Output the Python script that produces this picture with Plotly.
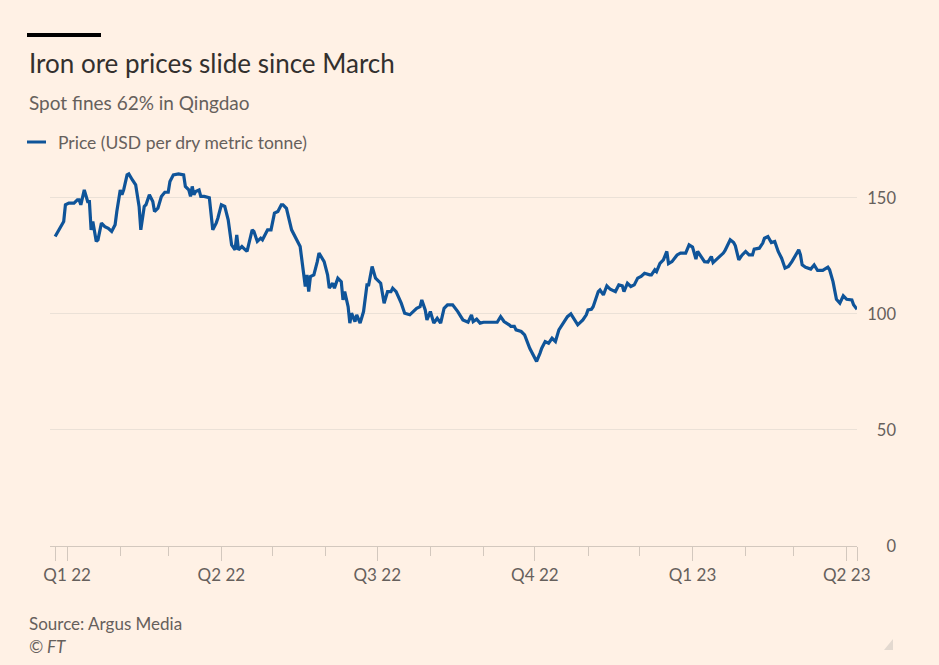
import plotly.graph_objects as go

# ---------------- data ----------------
dates = [
    "2021-12-25", "2021-12-27", "2021-12-29", "2021-12-30", "2021-12-31",
    "2022-01-02", "2022-01-05", "2022-01-07", "2022-01-08", "2022-01-09",
    "2022-01-11", "2022-01-12", "2022-01-13", "2022-01-14", "2022-01-15",
    "2022-01-16", "2022-01-17", "2022-01-18", "2022-01-19", "2022-01-21",
    "2022-01-23", "2022-01-25", "2022-01-27", "2022-01-29", "2022-01-30",
    "2022-02-01", "2022-02-02", "2022-02-03", "2022-02-05", "2022-02-06",
    "2022-02-08", "2022-02-10", "2022-02-12", "2022-02-13", "2022-02-15",
    "2022-02-16", "2022-02-18", "2022-02-20", "2022-02-21", "2022-02-23",
    "2022-02-25", "2022-02-27", "2022-03-01", "2022-03-02", "2022-03-04",
    "2022-03-07", "2022-03-10", "2022-03-11", "2022-03-13", "2022-03-14",
    "2022-03-15", "2022-03-16", "2022-03-17", "2022-03-19", "2022-03-20",
    "2022-03-22", "2022-03-25", "2022-03-27", "2022-03-29", "2022-03-30",
    "2022-04-01", "2022-04-03", "2022-04-05", "2022-04-07", "2022-04-09",
    "2022-04-10", "2022-04-11", "2022-04-13", "2022-04-15", "2022-04-16",
    "2022-04-19", "2022-04-20", "2022-04-22", "2022-04-24", "2022-04-25",
    "2022-04-28", "2022-04-30", "2022-05-02", "2022-05-04", "2022-05-06",
    "2022-05-07", "2022-05-09", "2022-05-12", "2022-05-14", "2022-05-17",
    "2022-05-19", "2022-05-20", "2022-05-21", "2022-05-22", "2022-05-23",
    "2022-05-25", "2022-05-27", "2022-05-28", "2022-05-31", "2022-06-02",
    "2022-06-03", "2022-06-05", "2022-06-06", "2022-06-08", "2022-06-10",
    "2022-06-11", "2022-06-12", "2022-06-14", "2022-06-15", "2022-06-16",
    "2022-06-18", "2022-06-19", "2022-06-21", "2022-06-23", "2022-06-25",
    "2022-06-26", "2022-06-28", "2022-06-30", "2022-07-03", "2022-07-04",
    "2022-07-05", "2022-07-07", "2022-07-09", "2022-07-10", "2022-07-12",
    "2022-07-15", "2022-07-17", "2022-07-20", "2022-07-22", "2022-07-24",
    "2022-07-26", "2022-07-27", "2022-07-29", "2022-07-30", "2022-08-01",
    "2022-08-03", "2022-08-05", "2022-08-07", "2022-08-09", "2022-08-11",
    "2022-08-14", "2022-08-17", "2022-08-20", "2022-08-23", "2022-08-25",
    "2022-08-26", "2022-08-28", "2022-08-30", "2022-09-01", "2022-09-09",
    "2022-09-11", "2022-09-13", "2022-09-16", "2022-09-17", "2022-09-19",
    "2022-09-20", "2022-09-23", "2022-09-25", "2022-09-28", "2022-10-01",
    "2022-10-02", "2022-10-04", "2022-10-05", "2022-10-07", "2022-10-09",
    "2022-10-11", "2022-10-13", "2022-10-15", "2022-10-18", "2022-10-20",
    "2022-10-22", "2022-10-24", "2022-10-26", "2022-10-29", "2022-10-31",
    "2022-11-01", "2022-11-03", "2022-11-04", "2022-11-07", "2022-11-08",
    "2022-11-10", "2022-11-12", "2022-11-14", "2022-11-17", "2022-11-19",
    "2022-11-21", "2022-11-22", "2022-11-24", "2022-11-26", "2022-11-28",
    "2022-11-30", "2022-12-02", "2022-12-04", "2022-12-07", "2022-12-08",
    "2022-12-10", "2022-12-11", "2022-12-13", "2022-12-15", "2022-12-17",
    "2022-12-18", "2022-12-20", "2022-12-23", "2022-12-25", "2022-12-28",
    "2022-12-30", "2023-01-01", "2023-01-02", "2023-01-03", "2023-01-04",
    "2023-01-06", "2023-01-08", "2023-01-10", "2023-01-12", "2023-01-13",
    "2023-01-16", "2023-01-19", "2023-01-20", "2023-01-23", "2023-01-25",
    "2023-01-26", "2023-01-28", "2023-01-30", "2023-02-01", "2023-02-03",
    "2023-02-05", "2023-02-06", "2023-02-09", "2023-02-11", "2023-02-12",
    "2023-02-14", "2023-02-16", "2023-02-18", "2023-02-20", "2023-02-22",
    "2023-02-24", "2023-02-26", "2023-02-28", "2023-03-02", "2023-03-04",
    "2023-03-05", "2023-03-06", "2023-03-08", "2023-03-11", "2023-03-13",
    "2023-03-15", "2023-03-18", "2023-03-21", "2023-03-22", "2023-03-24",
    "2023-03-26", "2023-03-28", "2023-03-30", "2023-04-01", "2023-04-04",
    "2023-04-05", "2023-04-07",
]

prices = [
    133.3, 136.2, 138.4, 139.8, 147.0,
    147.7, 147.7, 149.1, 149.1, 147.0,
    153.4, 150.6, 148.4, 148.4, 136.2,
    139.8, 135.5, 131.2, 131.9, 139.1,
    137.6, 136.9, 135.5, 138.4, 144.1,
    153.4, 151.3, 153.4, 159.9, 160.3,
    157.8, 155.6, 146.3, 136.2, 146.3,
    147.0, 151.3, 148.4, 144.1, 145.5,
    150.6, 152.4, 152.4, 157.0, 159.9,
    160.3, 159.9, 154.9, 153.4, 150.6,
    154.9, 151.3, 152.7, 153.4, 150.6,
    150.6, 150.0, 136.2, 139.1, 141.3,
    147.0, 146.3, 140.5, 129.7, 127.6,
    134.0, 127.6, 129.0, 127.6, 126.9,
    136.2, 135.5, 131.2, 132.6, 131.9,
    136.2, 136.2, 143.4, 144.1, 147.0,
    147.0, 145.5, 136.2, 133.3, 129.0,
    117.5, 111.8, 116.8, 109.6, 116.1,
    116.8, 122.5, 126.2, 122.5, 116.8,
    111.1, 113.2, 111.1, 115.4, 113.9,
    106.0, 109.6, 103.1, 96.0, 100.3,
    96.7, 99.6, 96.0, 101.0, 112.5,
    112.5, 120.4, 115.4, 113.2, 108.9,
    104.6, 109.6, 109.6, 111.1, 109.6,
    104.6, 100.3, 99.6, 101.0, 102.4,
    103.1, 106.0, 101.7, 97.4, 101.0,
    96.0, 98.1, 96.0, 102.4, 103.9,
    103.9, 101.0, 97.4, 96.4, 99.6,
    96.7, 97.7, 96.0, 96.4, 96.4,
    98.8, 96.7, 95.3, 94.6, 94.6,
    93.1, 92.4, 90.9, 85.2, 80.9,
    79.5, 83.1, 85.2, 88.1, 87.4,
    89.5, 88.1, 93.1, 96.7, 98.8,
    100.0, 97.4, 95.3, 97.4, 99.6,
    101.7, 102.0, 103.1, 109.6, 110.3,
    108.2, 112.1, 110.6, 109.6, 112.5,
    112.1, 109.6, 113.2, 111.8, 112.5,
    115.4, 116.1, 117.5, 116.8, 116.8,
    119.0, 118.2, 121.8, 123.3, 126.9,
    121.6, 122.5, 125.4, 126.2, 126.2,
    129.7, 128.8, 126.2, 123.6, 126.9,
    124.7, 122.5, 122.3, 124.7, 122.1,
    124.0, 126.2, 127.3, 131.9, 130.7,
    129.3, 123.3, 125.4, 126.9, 125.4,
    125.4, 127.9, 128.3, 130.5, 132.6,
    133.3, 130.7, 131.2, 126.9, 124.0,
    119.7, 120.4, 122.5, 125.4, 127.6,
    125.4, 121.1, 120.1, 119.3, 121.1,
    118.7, 118.7, 120.1, 119.0, 113.9,
    106.3, 104.6, 107.8, 106.3, 106.0,
    103.9, 102.0,
]

quarter_dates = ["2022-01-01", "2022-04-01", "2022-07-01", "2022-10-01",
                 "2023-01-01", "2023-04-01"]
quarter_labels = ["Q1 22", "Q2 22", "Q3 22", "Q4 22", "Q1 23", "Q2 23"]
month_dates = ["2022-02-01", "2022-03-01", "2022-05-01", "2022-06-01",
               "2022-08-01", "2022-09-01", "2022-11-01", "2022-12-01",
               "2023-02-01", "2023-03-01"]
y_ticks = [0, 50, 100, 150]

TITLE = "Iron ore prices slide since March"
SUBTITLE = "Spot fines 62% in Qingdao"
SERIES = "Price (USD per dry metric tonne)"
SOURCE = "Source: Argus Media"

# ---------------- styling ----------------
W, H = 939, 665
ML, MR, MT, MB = 50, 30, 163, 119
PW = W - ML - MR
PH = H - MT - MB
BG = "#fff1e5"
LINE = "#0f5499"
TEXT = "#66605c"
GRID = "#ebe1d7"
AXIS = "#d3c8be"
FONT = "Lato"


def px(x):
    return (x - ML) / PW


def py(y):
    return (H - MB - y) / PH


fig = go.Figure()
fig.add_trace(go.Scatter(
    x=dates, y=prices, mode="lines", name=SERIES,
    line=dict(color=LINE, width=3.2), showlegend=False,
    hoverinfo="x+y",
))

tickvals = [dates[0]] + quarter_dates + [dates[-1]]
ticktext = [""] + quarter_labels + [""]

fig.update_layout(
    width=W, height=H,
    margin=dict(l=ML, r=MR, t=MT, b=MB, pad=0),
    paper_bgcolor=BG, plot_bgcolor=BG,
    font=dict(family=FONT, color=TEXT),
    xaxis=dict(
        type="date", domain=[0, (857 - ML) / PW],
        range=["2021-12-22", dates[-1]],
        tickmode="array", tickvals=tickvals, ticktext=ticktext,
        ticks="outside", ticklen=14, tickwidth=1, tickcolor=AXIS,
        showgrid=False, zeroline=False,
        showline=True, linecolor=AXIS, linewidth=1,
        tickfont=dict(size=17, color=TEXT, family=FONT),
        minor=dict(tickmode="array", tickvals=month_dates, ticks="outside",
                   ticklen=9, tickwidth=1, tickcolor=AXIS, showgrid=False),
        fixedrange=True,
    ),
    yaxis=dict(
        range=[0, 165], tickmode="array", tickvals=y_ticks,
        anchor="free", position=px(896), side="left",
        showgrid=True, gridcolor=GRID, gridwidth=1,
        zeroline=False, showline=False, ticks="",
        tickfont=dict(size=16.5, color=TEXT, family=FONT),
        fixedrange=True,
    ),
)

# black bar above title
fig.add_shape(type="rect", xref="paper", yref="paper",
              x0=px(27), x1=px(101), y0=py(37), y1=py(33),
              fillcolor="#000000", line=dict(width=0))
# legend swatch
fig.add_shape(type="line", xref="paper", yref="paper",
              x0=px(27), x1=px(46), y0=py(142), y1=py(142),
              line=dict(color=LINE, width=3))
# resize triangle bottom-right
fig.add_shape(type="path", xref="paper", yref="paper",
              path=f"M {px(893)} {py(639)} L {px(893)} {py(650)} L {px(884)} {py(650)} Z",
              fillcolor="#e3d9d0", line=dict(width=0))

ann = [
    (TITLE, 27, 63, 26, "#33302e", False),
    (SUBTITLE, 27, 102, 19, TEXT, False),
    (SERIES, 56, 142, 17.5, TEXT, False),
    (SOURCE, 27, 623, 17, TEXT, False),
    ("© FT", 27, 646, 17, TEXT, True),
]
for text, x, y, size, color, italic in ann:
    t = f"<i>{text}</i>" if italic else text
    fig.add_annotation(text=t, xref="paper", yref="paper", x=px(x), y=py(y),
                       xanchor="left", yanchor="middle", showarrow=False,
                       font=dict(size=size, color=color, family=FONT))

fig.write_html(
    "out.html",
    config={"displayModeBar": False},
    post_script="document.body.style.margin='0';"
                "document.body.style.background='#fff1e5';",
)
